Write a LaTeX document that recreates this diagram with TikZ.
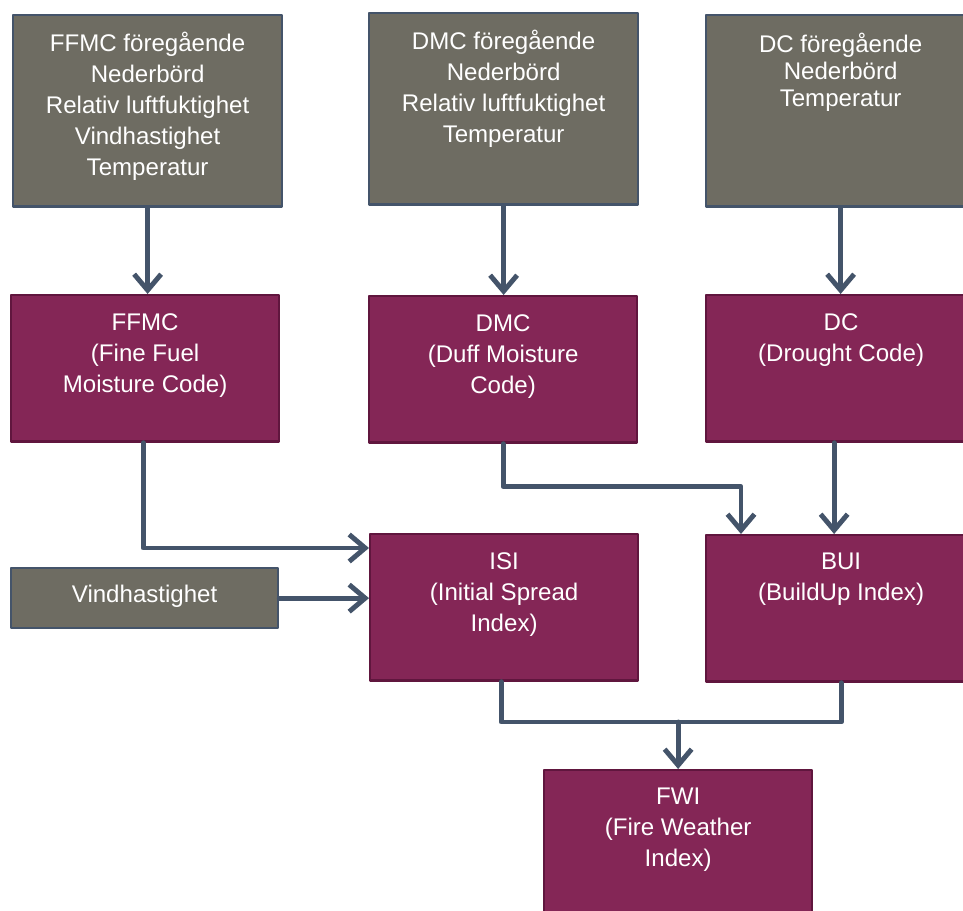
\documentclass[tikz,border=0pt]{standalone}
\usepackage{fontspec}
\setmainfont{Liberation Sans}
\usetikzlibrary{arrows.meta,calc}

\definecolor{indatagray}{RGB}{110,108,98}
\definecolor{indexpurple}{RGB}{132,38,86}
\definecolor{indexedge}{RGB}{96,22,62}
\definecolor{slateline}{RGB}{68,84,106}

\tikzset{
  indata/.style={draw=slateline,fill=indatagray,line width=1.3pt,anchor=north west,
    inner sep=0pt,minimum width=5.38cm,minimum height=3.83cm},
  indexbox/.style={draw=indexedge,fill=indexpurple,line width=1.3pt,anchor=north west,
    inner sep=0pt,minimum width=5.36cm,minimum height=2.93cm},
  boxtext/.style={anchor=north,text=white,align=center,inner sep=0pt,
    font=\fontsize{13.7}{17.6}\selectfont},
  link/.style={draw=slateline,line width=2.8pt},
  flow/.style={link,-{Straight Barb[length=3.2mm,width=5.4mm]}},
}

\begin{document}
\begin{tikzpicture}[x=0.02cm,y=-0.02cm,line cap=round,line join=round]
        \useasboundingbox (0,0) rectangle (963,911);

        % Indata
        \node[indata] (ffmcin) at (12,14) {};
        \node[indata] (dmcin) at (368,12) {};
        \node[indata] (dcin) at (705,14) {};
        \node[indata,minimum width=5.34cm,minimum height=1.2cm] (vind) at (10,567) {};
        \node[boxtext] (ffmcintext) at ($(ffmcin.north)+(0,18)$)
            {FFMC föregående\\Nederbörd\\Relativ luftfuktighet\\Vindhastighet\\Temperatur};
        \node[boxtext] (dmcintext) at ($(dmcin.north)+(0,18)$)
            {DMC föregående\\Nederbörd\\Relativ luftfuktighet\\Temperatur};
        \node[boxtext,font=\fontsize{13.7}{15.4}\selectfont] (dcintext) at ($(dcin.north)+(0,19)$)
            {DC föregående\\Nederbörd\\Temperatur};
        \node[boxtext,anchor=center] (vindtext) at ($(vind.center)+(0,-2)$) {Vindhastighet};

        % Delkoder
        \node[indexbox] (ffmc) at (10,294) {};
        \node[indexbox] (dmc) at (368,295) {};
        \node[indexbox,minimum width=5.4cm] (dc) at (705,294) {};
        \node[boxtext] (ffmctext) at ($(ffmc.north)+(0,19)$)
            {FFMC\\(Fine Fuel\\Moisture Code)};
        \node[boxtext] (dmctext) at ($(dmc.north)+(0,19)$)
            {DMC\\(Duff Moisture\\Code)};
        \node[boxtext] (dctext) at ($(dc.north)+(0,19)$)
            {DC\\(Drought Code)};

        % Index
        \node[indexbox] (isi) at (369,533) {};
        \node[indexbox,minimum width=5.4cm] (bui) at (705,534) {};
        \node[indexbox,minimum height=3.2cm] (fwi) at (543,769) {};
        \node[boxtext] (isitext) at ($(isi.north)+(0,19)$)
            {ISI\\(Initial Spread\\Index)};
        \node[boxtext] (buitext) at ($(bui.north)+(0,19)$)
            {BUI\\(BuildUp Index)};
        \node[boxtext] (fwitext) at ($(fwi.north)+(0,19)$)
            {FWI\\(Fire Weather\\Index)};

        % Pilar
        \draw[flow] (ffmcin.south) -- (ffmcin.south |- ffmc.north);
        \draw[flow] (dmcin.south) -- (dmcin.south |- dmc.north);
        \draw[flow] (dcin.south) -- (dcin.south |- dc.north);
        \draw[flow] ($(ffmc.south)+(-2,0)$) |- ($(isi.north west)+(0,15)$);
        \draw[flow] (vind.east) -- (vind.east -| isi.west);
        \draw[flow] (dmc.south) -- ++(0,43) -| ($(bui.north west)+(36,0)$);
        \coordinate (dcfoot) at ($(dc.south)+(-7,0)$);
        \draw[flow] (dcfoot) -- (dcfoot |- bui.north);
        \coordinate (merge) at ($(fwi.north)+(0,-47)$);
        \draw[link] ($(isi.south)+(-3,0)$) |- (merge) -| (bui.south);
        \draw[flow] (merge) -- (fwi.north);
    \end{tikzpicture}
\end{document}
